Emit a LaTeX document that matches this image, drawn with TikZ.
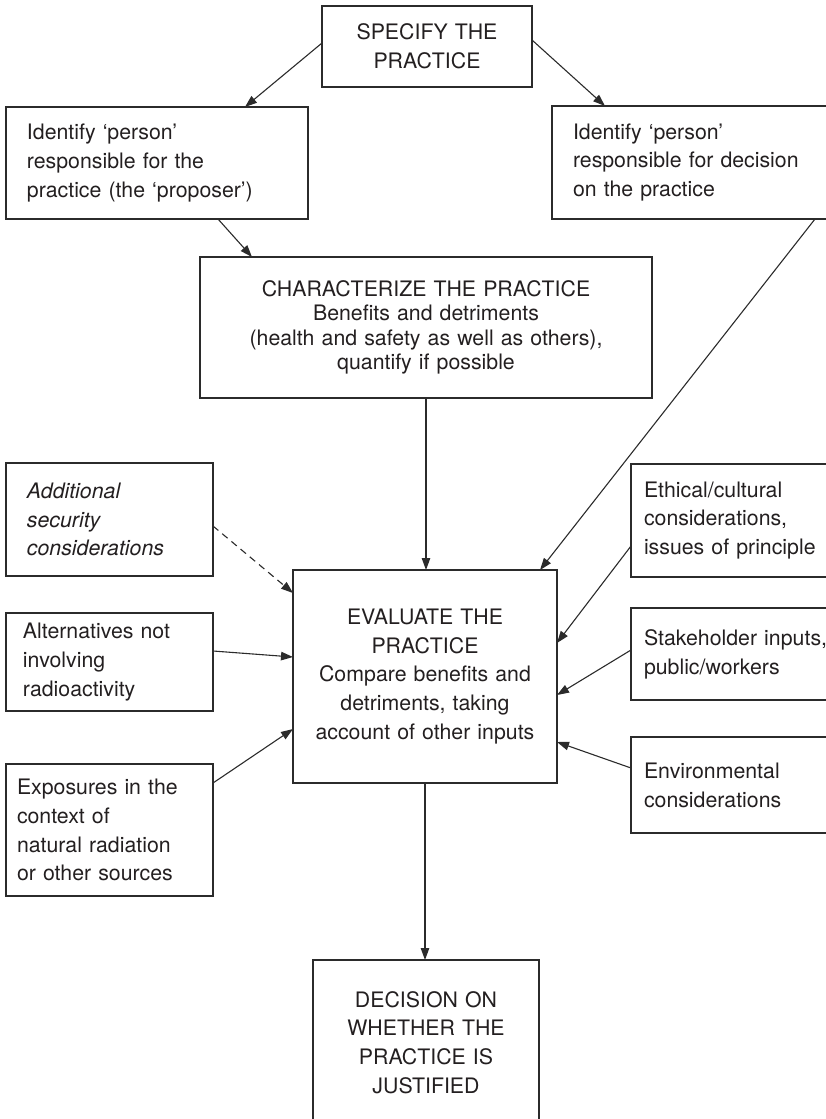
\documentclass[tikz,border=0pt]{standalone}
\usepackage{fontspec}
\setmainfont{TeX Gyre Heros}
\usetikzlibrary{arrows.meta}

\definecolor{ink}{HTML}{231F20}
\definecolor{rule}{HTML}{2B2B2B}

\begin{document}
\begin{tikzpicture}[x=1pt, y=-1pt,
  every node/.style={text=ink},
  box/.style={draw=rule, line width=1.2pt, rectangle, outer sep=0pt, inner ysep=0pt,
    anchor=north west, font=\fontsize{21.3}{28.8}\selectfont},
  cbox/.style={box, align=center, inner xsep=0pt},
  lbox/.style={box, align=left},
  arr/.style={draw=rule, line width=1.1pt, -{Triangle[length=12pt,width=8.5pt]}},
  darr/.style={arr, dash pattern=on 7pt off 5pt}
]
\useasboundingbox (0,0) rectangle (826,1119);
\clip (0,0) rectangle (826,1119);

% top and first row
\node[cbox, minimum width=210pt, minimum height=81pt, text width=210pt] (spec) at (322,6)
  {SPECIFY THE\\PRACTICE};
\node[lbox, minimum width=302pt, minimum height=112pt, inner xsep=21pt, text width=260pt] (prop) at (6,107)
  {Identify ‘person’\\responsible for the\\practice (the ‘proposer’)};
\node[lbox, minimum width=300pt, minimum height=113pt, inner xsep=21pt, text width=258pt] (dm) at (552,106)
  {Identify ‘person’\\responsible for decision\\on the practice};

% characterization
\node[cbox, minimum width=452pt, minimum height=141pt, text width=452pt,
  font=\fontsize{21.3}{24.5}\selectfont] (char) at (200,257)
  {CHARACTERIZE THE PRACTICE\\Benefits and detriments\\(health and safety as well as others),\\quantify if possible};

% evaluation and its inputs
\node[cbox, minimum width=264pt, minimum height=213pt, text width=264pt] (eval) at (293,570)
  {EVALUATE THE\\PRACTICE\\Compare benefits and\\detriments, taking\\account of other inputs};

\node[lbox, minimum width=207pt, minimum height=113pt, inner xsep=21pt, text width=165pt,
  font=\fontsize{21.3}{28.8}\selectfont\itshape] (sec) at (6,463)
  {Additional\\security\\considerations};
\node[lbox, minimum width=207pt, minimum height=98pt, inner xsep=17pt, text width=173pt] (alt) at (6,613)
  {Alternatives not\\involving\\radioactivity};
\node[lbox, minimum width=207pt, minimum height=132pt, inner xsep=11pt, text width=185pt] (expo) at (6,764)
  {Exposures in the\\context of\\natural radiation\\or other sources};

\node[lbox, minimum width=220pt, minimum height=113pt, inner xsep=13pt, text width=194pt] (eth) at (631,464)
  {Ethical/cultural\\considerations,\\issues of principle};
\node[lbox, minimum width=220pt, minimum height=92pt, inner xsep=13pt, text width=194pt] (stake) at (631,608)
  {Stakeholder inputs,\\public/workers};
\node[lbox, minimum width=220pt, minimum height=96pt, inner xsep=13pt, text width=194pt] (env) at (631,737)
  {Environmental\\considerations};

% decision
\node[cbox, minimum width=226pt, minimum height=165pt, text width=226pt] (dec) at (313,960)
  {DECISION ON\\WHETHER THE\\PRACTICE IS\\JUSTIFIED};

% connectors
\draw[arr] ([yshift=3.5pt]spec.west) -- ([xshift=239pt]prop.north west);
\draw[arr] ([yshift=6.5pt]spec.east) -- ([xshift=53pt]dm.north west);
\draw[arr] ([xshift=212pt]prop.south west) -- ([xshift=52pt]char.north west);
\draw[arr] ([xshift=263pt]dm.south west) -- ([xshift=-17pt]eval.north east);
\draw[arr] (char.south) -- (char.south |- eval.north);

\draw[darr] ([yshift=-6.5pt]sec.east) -- ([yshift=-23pt]eval.north west);
\draw[arr] ([yshift=11pt]alt.east) -- ([yshift=-87pt]eval.north west);
\draw[arr] ([yshift=47pt]expo.east) -- ([yshift=54pt]eval.south west);

\draw[arr] ([yshift=-25.5pt]eth.west) -- ([yshift=-73pt]eval.north east);
\draw[arr] ([yshift=4pt]stake.west) -- ([yshift=-125pt]eval.north east);
\draw[arr] ([yshift=17pt]env.west) -- ([yshift=41pt]eval.south east);

\draw[arr] (eval.south) -- (eval.south |- dec.north);
\end{tikzpicture}
\end{document}
